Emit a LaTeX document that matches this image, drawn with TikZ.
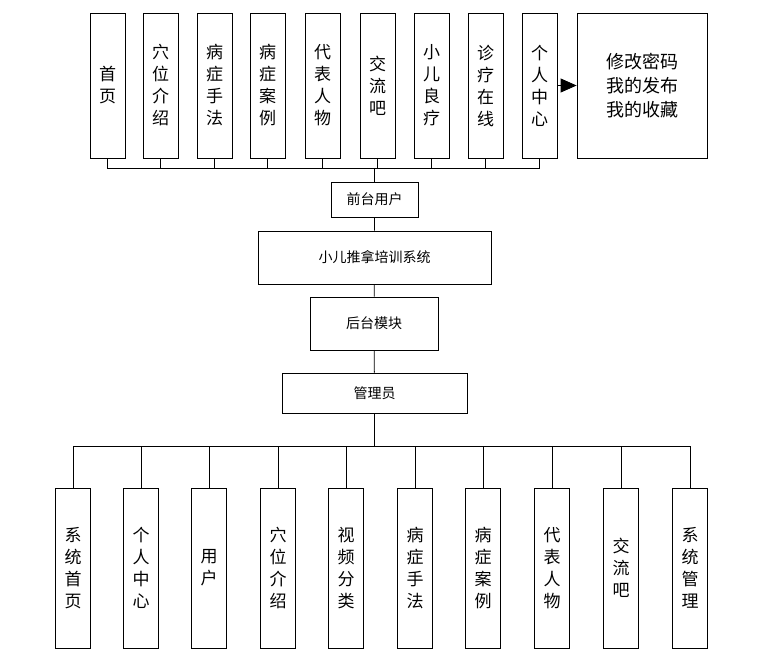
\documentclass[tikz,border=0pt]{standalone}
\usepackage{fontspec}
\newfontfamily\cjk{Noto Sans CJK SC}
\usetikzlibrary{arrows.meta}
\begin{document}
\begin{tikzpicture}[x=1pt,y=-1pt,
 bx/.style={draw,line width=0.8pt,inner sep=0pt,font=\cjk\fontsize{17}{22}\selectfont,align=center},
 mb/.style={draw,line width=0.8pt,inner sep=0pt,font=\cjk\fontsize{14}{18}\selectfont},
 ln/.style={line width=0.8pt}]
\useasboundingbox (0,0) rectangle (757,662);
% top boxes
\foreach \n/\x/\t in {t1/107.5/首\\页, t2/160.5/穴\\位\\介\\绍, t3/214.5/病\\症\\手\\法, t4/267.5/病\\症\\案\\例, t5/322.5/代\\表\\人\\物, t6/377.5/交\\流\\吧, t7/431.5/小\\儿\\良\\疗, t8/485.5/诊\\疗\\在\\线, t9/539.5/个\\人\\中\\心}
 \node[bx,minimum width=35,minimum height=145] (\n) at (\x,85.5) {\t};
\node[bx,font=\cjk\fontsize{18}{24}\selectfont,minimum width=130,minimum height=145] (big) at (642,85.5) {修改密码\\我的发布\\我的收藏};
\draw[ln,-{Triangle[length=16pt,width=14pt]}] (t9.east) -- (big.west);
\node[mb,minimum width=87,minimum height=35] (qt) at (374.5,199.5) {前台用户};
\node[mb,minimum width=233,minimum height=53] (sys) at (374.5,257.5) {小儿推拿培训系统};
\node[mb,minimum width=128,minimum height=53] (ht) at (374,323.5) {后台模块};
\node[mb,minimum width=185,minimum height=40] (gl) at (374.5,393) {管理员};
\coordinate (hb) at (374.5,168);
\foreach \n in {t1,t2,t3,t4,t5,t6,t7,t8,t9} \draw[ln] (\n.south) |- (hb);
\draw[ln] (t1.south) |- (t9.south |- hb) -- (t9.south);
\draw[ln] (hb) -- (qt.north);
\draw[ln] (qt) -- (sys) (sys) -- (ht) (ht) -- (gl);
\coordinate (hl) at (374.5,446);
\foreach \n/\x/\t in {b1/73/系\\统\\首\\页, b2/141/个\\人\\中\\心, b3/209/用\\户, b4/278/穴\\位\\介\\绍, b5/346/视\\频\\分\\类, b6/415/病\\症\\手\\法, b7/483/病\\症\\案\\例, b8/552/代\\表\\人\\物, b9/621/交\\流\\吧, b10/690/系\\统\\管\\理}
 {\node[bx,minimum width=35,minimum height=160] (\n) at (\x,568) {\t};
  \draw[ln] (\n.north) -- (\n.north |- hl);}
\draw[ln] (gl.south) -- (hl);
\draw[ln] (b1.north |- hl) -- (b10.north |- hl);
\end{tikzpicture}
\end{document}
